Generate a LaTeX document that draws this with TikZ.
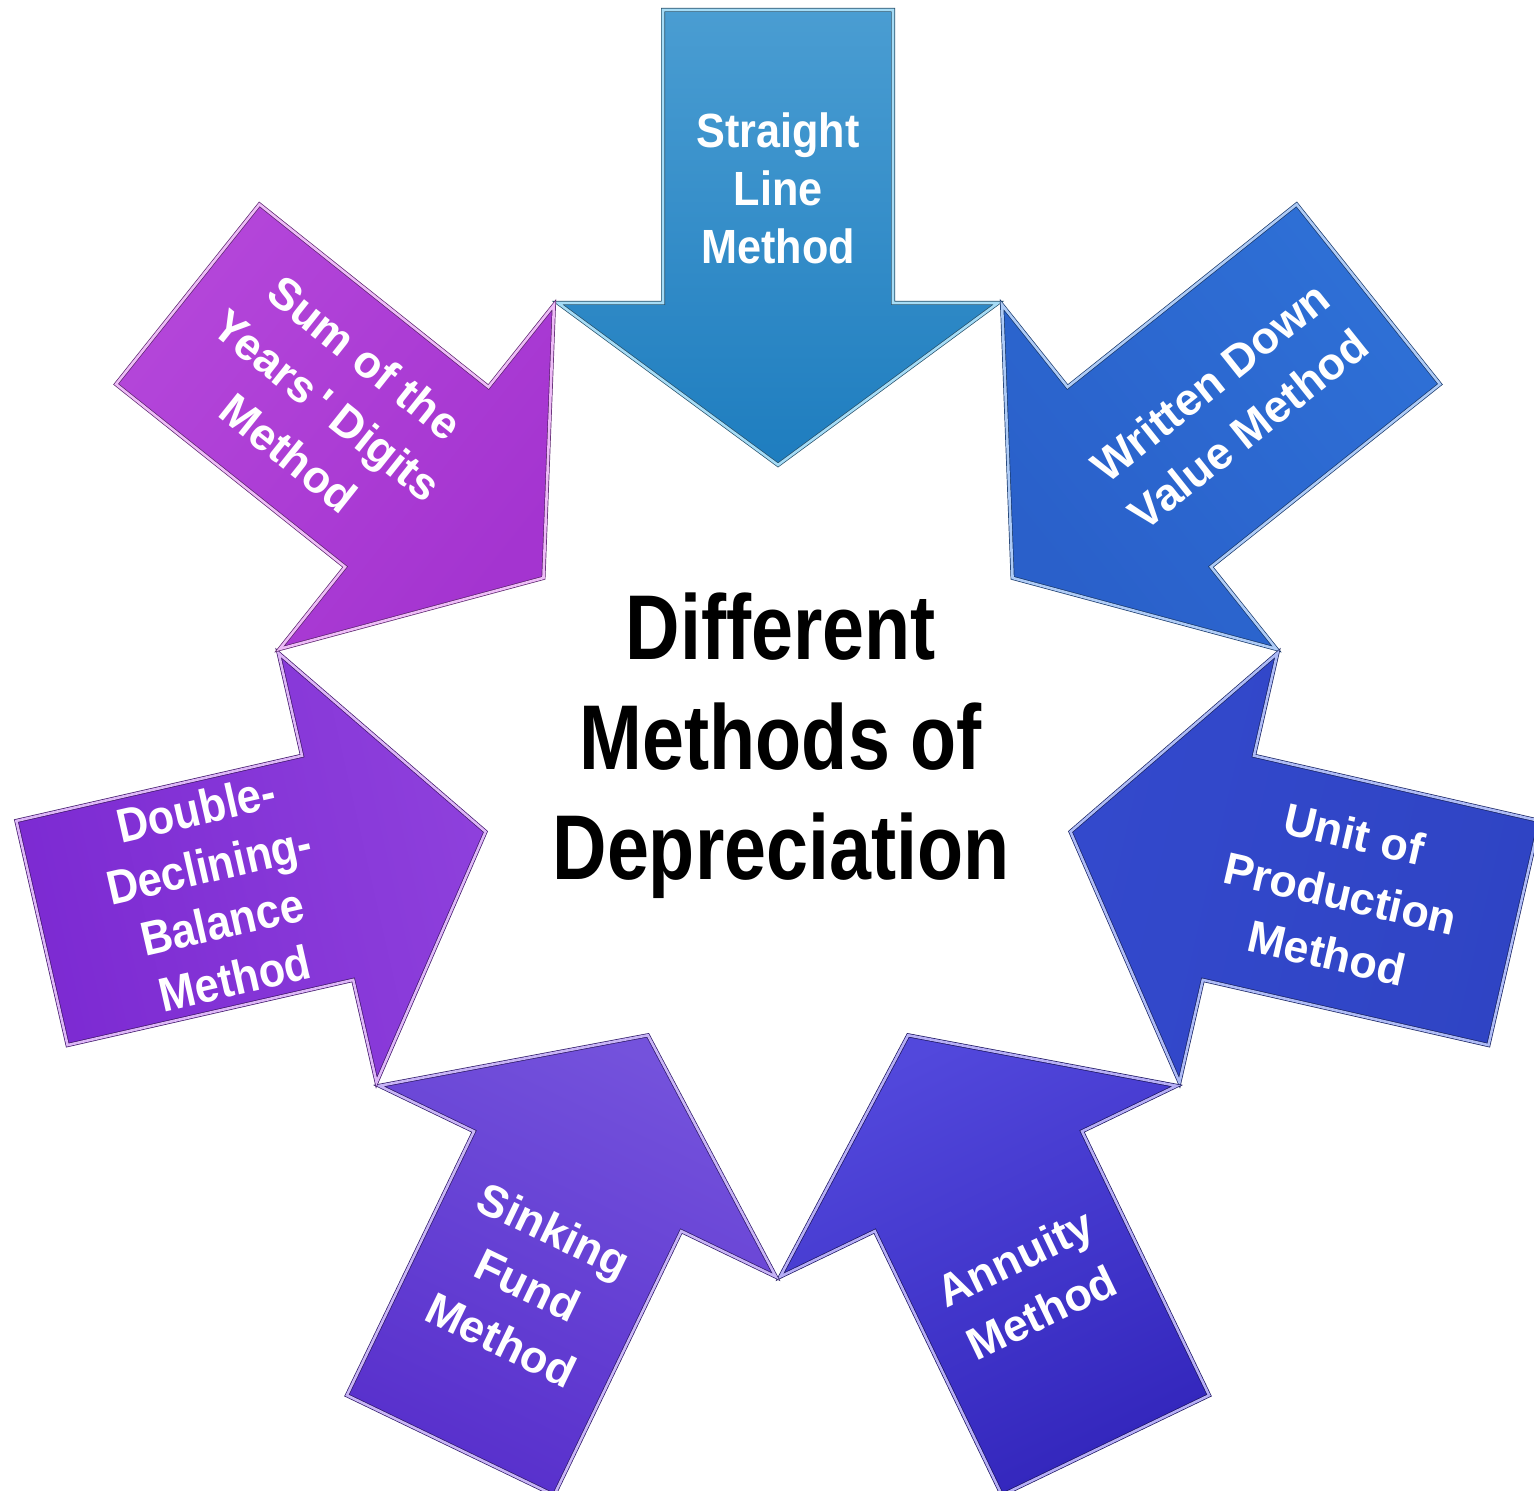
\documentclass[tikz,border=0pt]{standalone}
\usepackage{fontspec}
\setmainfont{Liberation Sans}
\newfontfamily\narrowfont[FakeStretch=0.82]{Liberation Sans}
\newfontfamily\condfont[FakeStretch=0.9]{Liberation Sans}
\usetikzlibrary{calc}

% arrow colours: far end, tip end, rim highlight
\definecolor{slOut}{HTML}{4A9DD2}\definecolor{slIn}{HTML}{1E7DBF}\definecolor{slRim}{HTML}{A6DCF6}
\definecolor{wdOut}{HTML}{2E70D6}\definecolor{wdIn}{HTML}{2A60CA}\definecolor{wdRim}{HTML}{AECBF6}
\definecolor{upOut}{HTML}{2F44C4}\definecolor{upIn}{HTML}{3349CC}\definecolor{upRim}{HTML}{AEBBF6}
\definecolor{anOut}{HTML}{3326BC}\definecolor{anIn}{HTML}{5248DC}\definecolor{anRim}{HTML}{B6AEF6}
\definecolor{sfOut}{HTML}{5830CC}\definecolor{sfIn}{HTML}{7452DC}\definecolor{sfRim}{HTML}{C8B4F6}
\definecolor{ddOut}{HTML}{7C2AD2}\definecolor{ddIn}{HTML}{8E40DC}\definecolor{ddRim}{HTML}{DDB6F7}
\definecolor{syOut}{HTML}{B446DA}\definecolor{syIn}{HTML}{A434D0}\definecolor{syRim}{HTML}{EEBCF7}

\begin{document}
\begin{tikzpicture}[x=0.5pt,y=0.5pt,
  arrowshape/.style={line join=miter, line width=2pt},
  methodtext/.style={text=white, align=center, inner sep=0pt,
    font=\bfseries\fontsize{22.5}{30.5}\selectfont},
  condtext/.style={methodtext, font=\condfont\bfseries\fontsize{24}{29}\selectfont},
  titletext/.style={text=black, align=center, inner sep=0pt,
    font=\narrowfont\bfseries\fontsize{46}{55}\selectfont}]

\useasboundingbox (0,0) rectangle (1534,1491);
\fill[white] (0,0) rectangle (1534,1491);
\clip (0,0) rectangle (1534,1491);

\coordinate (ctr) at (778,726);

% seven arrows pointing at the centre, 360/7 degrees apart
\foreach \ang/\outer/\inner/\rim/\rot/\nm/\sty/\txt in {
   90.00/slOut/slIn/slRim/0/straight/condtext/{Straight\\Line\\Method},
   38.57/wdOut/wdIn/wdRim/38.57/written/methodtext/{Written Down\\Value Method},
  -12.86/upOut/upIn/upRim/-12.86/unit/methodtext/{Unit of\\Production\\Method},
  -64.29/anOut/anIn/anRim/25.71/annuity/methodtext/{Annuity\\Method},
 -115.71/sfOut/sfIn/sfRim/-25.71/sinking/methodtext/{Sinking\\Fund\\Method},
  192.86/ddOut/ddIn/ddRim/12.86/double/condtext/{Double-\\Declining-\\Balance\\Method},
  141.43/syOut/syIn/syRim/-38.57/sumyears/methodtext/{Sum of the\\Years\,\textquotesingle\ Digits\\Method}}
{
  \pgfmathsetmacro\sa{\ang-90}
  \begin{scope}[shift={(ctr)}, rotate=\ang]
    \path[arrowshape, draw=\outer!50!black, shading=axis,
          top color=\outer, bottom color=\inner, shading angle=\sa,
          postaction={draw=\rim, line width=1.3pt}]
      (300,0) -- (462,220) -- (462,115) -- (755,115) -- (755,-115)
      -- (462,-115) -- (462,-220) -- cycle;
  \end{scope}
  \node[\sty, rotate=\rot] (\nm) at ($(ctr)+(\ang:577)$) {\txt};
}

\node[titletext] (title) at (781,745) {Different\\Methods of\\Depreciation};
\end{tikzpicture}
\end{document}
